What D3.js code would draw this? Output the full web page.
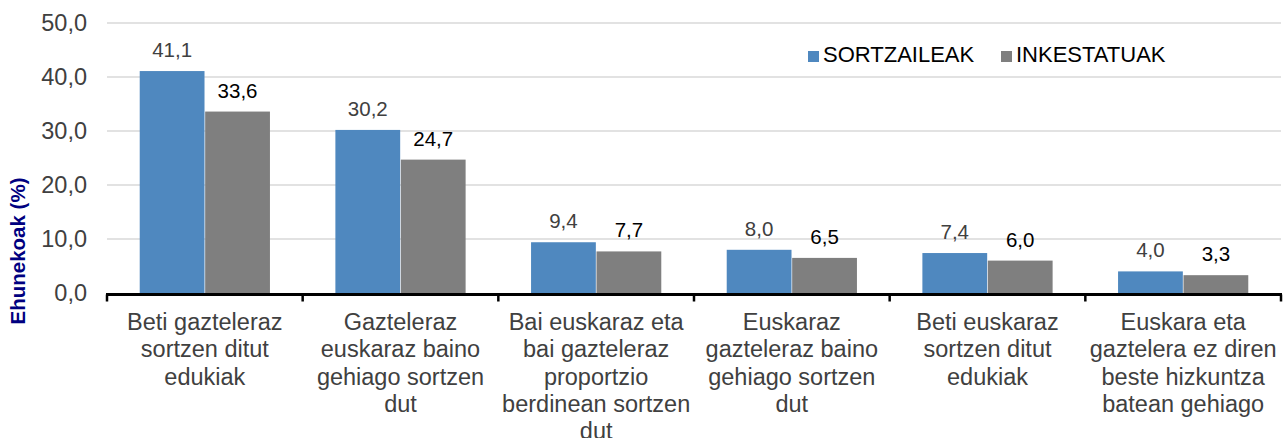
<!DOCTYPE html>
<html>
<head>
<meta charset="utf-8">
<script src="https://cdn.jsdelivr.net/npm/d3@7"></script>
<style>
  body { margin: 0; background: #fff; }
  text { font-family: "Liberation Sans", Arial, sans-serif; }
</style>
</head>
<body>
<div id="chart"></div>
<script>
const categories = [
  ['Beti gazteleraz', 'sortzen ditut', 'edukiak'],
  ['Gazteleraz', 'euskaraz baino', 'gehiago sortzen', 'dut'],
  ['Bai euskaraz eta', 'bai gazteleraz', 'proportzio', 'berdinean sortzen', 'dut'],
  ['Euskaraz', 'gazteleraz baino', 'gehiago sortzen', 'dut'],
  ['Beti euskaraz', 'sortzen ditut', 'edukiak'],
  ['Euskara eta', 'gaztelera ez diren', 'beste hizkuntza', 'batean gehiago']
];
const seriesNames = ['SORTZAILEAK', 'INKESTATUAK'];
const sortzaileak = [41.1, 30.2, 9.4, 8.0, 7.4, 4.0];
const inkestatuak = [33.6, 24.7, 7.7, 6.5, 6.0, 3.3];
const yTicks = [0, 10, 20, 30, 40, 50];

const W = 1287, H = 438;
const margin = {left: 107, right: 6, top: 23, bottom: 145};
const colors = ['#4f88bf', '#7f7f7f'];
const labelColors = ['#404040', '#000000'];

const svg = d3.select('#chart').append('svg')
  .attr('width', W)
  .attr('height', H);

const x0 = d3.scaleBand()
  .domain(d3.range(categories.length))
  .range([margin.left, W - margin.right])
  .paddingInner(0)
  .paddingOuter(0);

const x1 = d3.scaleBand()
  .domain([0, 1])
  .range([0, x0.bandwidth()])
  .paddingInner(0.01)
  .paddingOuter(0.5);

const y = d3.scaleLinear()
  .domain([0, 50])
  .range([293, margin.top]);

const fmt = v => d3.format('.1f')(v).replace('.', ',');

// grid
svg.append('g')
  .selectAll('line')
  .data(yTicks.slice(1))
  .join('line')
  .attr('x1', margin.left)
  .attr('x2', W - margin.right)
  .attr('y1', d => y(d))
  .attr('y2', d => y(d))
  .attr('stroke', '#d9d9d9')
  .attr('stroke-width', 1.5);

// y labels
svg.append('g')
  .selectAll('text')
  .data(yTicks)
  .join('text')
  .attr('x', 87)
  .attr('y', d => y(d))
  .attr('dy', '0.36em')
  .attr('text-anchor', 'end')
  .attr('fill', '#404040')
  .attr('font-size', '23.5px')
  .text(fmt);

// y title
svg.append('text')
  .attr('transform', 'translate(25,251) rotate(-90)')
  .attr('text-anchor', 'middle')
  .attr('fill', '#000080')
  .attr('font-size', '20.5px')
  .attr('font-weight', 'bold')
  .text('Ehunekoak (%)');

// bars
const series = [sortzaileak, inkestatuak];
const groups = svg.append('g')
  .selectAll('g')
  .data(categories.map((c, i) => i))
  .join('g')
  .attr('transform', i => `translate(${x0(i)},0)`);

groups.selectAll('rect')
  .data(i => series.map((s, k) => ({k, v: s[i]})))
  .join('rect')
  .attr('x', d => x1(d.k))
  .attr('width', x1.bandwidth())
  .attr('y', d => y(d.v))
  .attr('height', d => y(0) - y(d.v))
  .attr('fill', d => colors[d.k]);

groups.selectAll('text.val')
  .data(i => series.map((s, k) => ({k, v: s[i]})))
  .join('text')
  .attr('class', 'val')
  .attr('x', d => x1(d.k) + x1.bandwidth() / 2)
  .attr('y', d => y(d.v) - 14)
  .attr('text-anchor', 'middle')
  .attr('fill', d => labelColors[d.k])
  .attr('font-size', '20.5px')
  .text(d => fmt(d.v));

// x axis
const axisY = y(0) + 1.5;
svg.append('line')
  .attr('x1', margin.left - 1)
  .attr('x2', W - margin.right + 1)
  .attr('y1', axisY)
  .attr('y2', axisY)
  .attr('stroke', '#000')
  .attr('stroke-width', 3);

svg.append('g')
  .selectAll('line')
  .data(d3.range(categories.length + 1))
  .join('line')
  .attr('x1', i => i < categories.length ? x0(i) : x0(i - 1) + x0.bandwidth())
  .attr('x2', i => i < categories.length ? x0(i) : x0(i - 1) + x0.bandwidth())
  .attr('y1', axisY)
  .attr('y2', axisY + 7)
  .attr('stroke', '#000')
  .attr('stroke-width', 2.5);

// category labels
const catText = svg.append('g')
  .selectAll('text')
  .data(categories)
  .join('text')
  .attr('x', (d, i) => x0(i) + x0.bandwidth() / 2)
  .attr('y', 330)
  .attr('text-anchor', 'middle')
  .attr('fill', '#404040')
  .attr('font-size', '23.5px');

catText.selectAll('tspan')
  .data(d => d)
  .join('tspan')
  .attr('x', function () { return d3.select(this.parentNode).attr('x'); })
  .attr('dy', (d, i) => i === 0 ? 0 : 27.3)
  .text(d => d);

// legend
const legend = svg.append('g');
const legendX = [808, 1001];
seriesNames.forEach((name, k) => {
  legend.append('rect')
    .attr('x', legendX[k])
    .attr('y', 51)
    .attr('width', 11)
    .attr('height', 11)
    .attr('fill', colors[k]);
  legend.append('text')
    .attr('x', legendX[k] + 15)
    .attr('y', 62)
    .attr('fill', '#000')
    .attr('font-size', '22px')
    .text(name);
});
</script>
</body>
</html>
